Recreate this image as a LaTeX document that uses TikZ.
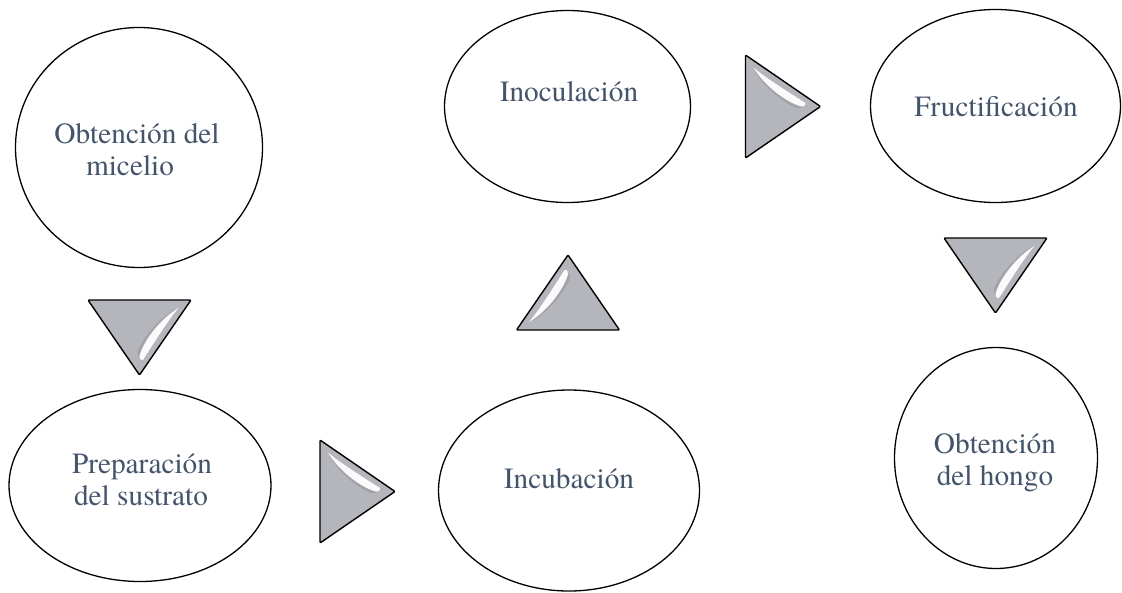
\documentclass[tikz,border=0pt]{standalone}
\usepackage{fontspec}
\setmainfont{texgyretermes}[Extension=.otf, UprightFont=*-regular, BoldFont=*-bold, ItalicFont=*-italic, BoldItalicFont=*-bolditalic]
\usetikzlibrary{shapes.geometric}
\definecolor{txtc}{RGB}{68,84,106}
\definecolor{trigray}{RGB}{180,182,187}
\definecolor{trishade}{RGB}{140,142,148}
\newcommand\glosstri[3]{%
  \begin{scope}[shift={(#1,#2)}, rotate=#3]
    \draw[tribody] (0,-51.5) -- (75,0) -- (0,51.5) -- cycle;
    \fill[trishade, opacity=0.45] (9,-36) .. controls (20,-27) and (44,-10) .. (58,-0.5)
      .. controls (55,2) and (52,2.5) .. (50,1.5) .. controls (36,-5) and (18,-20) .. cycle;
    \fill[white, opacity=0.95] (8,-39) .. controls (18,-30) and (45,-13) .. (60,-3.5)
      .. controls (61,-1) and (57,1) .. (54,-0.5)
      .. controls (38,-6) and (18,-22) .. cycle;
  \end{scope}}
\begin{document}
\begin{tikzpicture}[x=1pt,y=-1pt,
  ell/.style={ellipse, draw=black, line width=1.3pt, inner sep=0pt, fill=white},
  lbl/.style={text=txtc, font=\fontsize{29.3}{32}\selectfont, anchor=base, inner sep=0pt},
  tribody/.style={fill=trigray, draw=black, line width=1.4pt, line join=round, rounded corners=1pt}
]
\useasboundingbox (0,0) rectangle (1122,592);

% ellipses
\node[ell, minimum width=247, minimum height=240] (micelio) at (139,147.5) {};
\node[ell, minimum width=262, minimum height=192] (sustrato) at (140,485.5) {};
\node[ell, minimum width=261, minimum height=201] (incub) at (569,490.5) {};
\node[ell, minimum width=246, minimum height=192] (inocul) at (567.5,106.5) {};
\node[ell, minimum width=250, minimum height=193] (fruct) at (995.5,106) {};
\node[ell, minimum width=203, minimum height=221] (hongo) at (996,458) {};

% labels
\node[lbl] (t1a) at (137,143.5) {Obtención del};
\node[lbl] (t1b) at (130,175) {micelio};
\node[lbl] (t2a) at (142,473.5) {Preparación};
\node[lbl] (t2b) at (141,505) {del sustrato};
\node[lbl] (t3) at (569,488) {Incubación};
\node[lbl] (t4) at (569,101) {Inoculación};
\node[lbl] (t5) at (996,116) {Fructificación};
\node[lbl] (t6a) at (995,453) {Obtención};
\node[lbl] (t6b) at (995,485) {del hongo};

% glossy triangle arrows
\glosstri{139.5}{300}{-90}
\glosstri{320}{491.5}{0}
\glosstri{568}{330}{90}
\glosstri{745.5}{106.5}{0}
\glosstri{995.5}{238}{-90}
\end{tikzpicture}
\end{document}
